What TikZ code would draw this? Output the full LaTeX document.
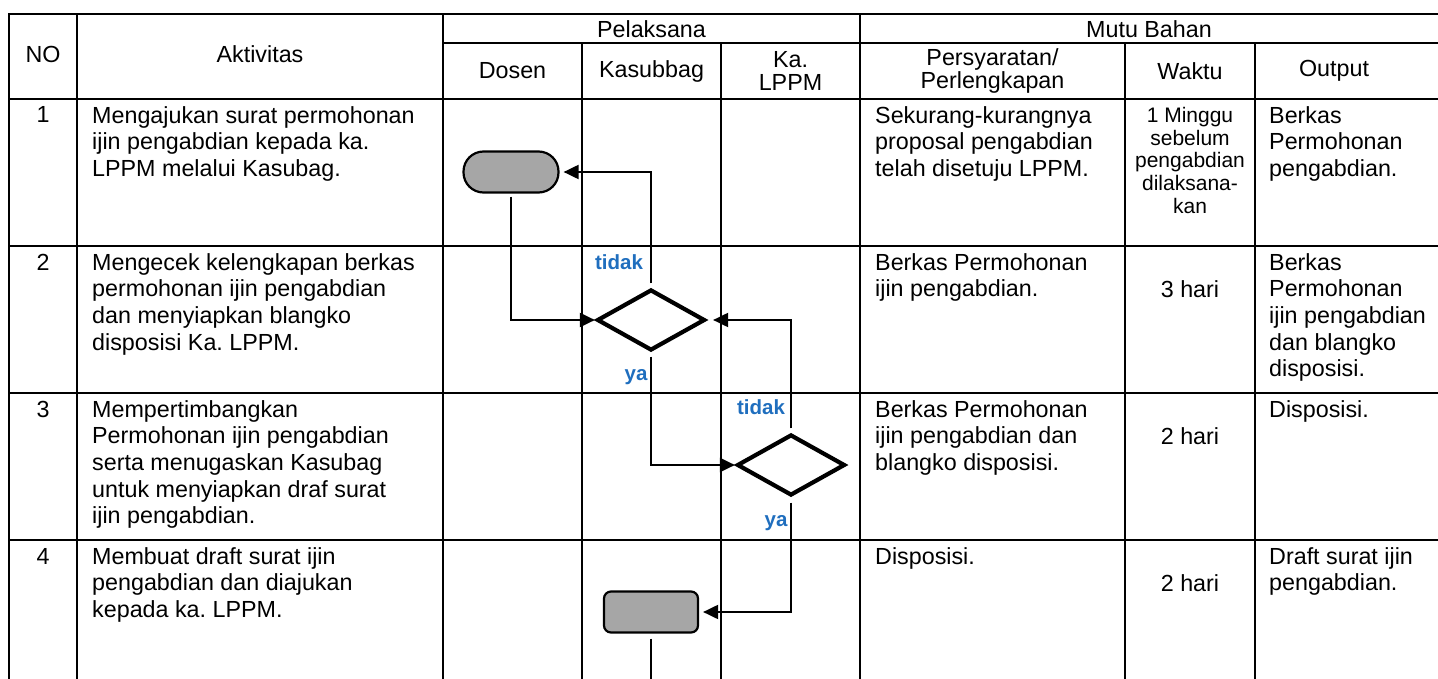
\documentclass[tikz,border=0pt]{standalone}
\usepackage{fontspec}
\setmainfont{Liberation Sans}
\usetikzlibrary{positioning,arrows.meta,shapes.geometric}
\definecolor{lblblue}{RGB}{31,110,190}
\definecolor{boxgray}{RGB}{166,166,166}
\frenchspacing

\begin{document}
\begin{tikzpicture}[x=1pt, y=-1pt,
  font=\fontsize{23.3}{26.7}\selectfont, >={Triangle[length=15pt,width=14pt]},
  grid/.style={line width=2.4pt, line cap=rect},
  cell/.style={anchor=north west, inner sep=0pt, align=left},
  head/.style={inner sep=0pt, align=center},
  num/.style={anchor=base, inner sep=0pt},
  terminal/.style={draw, line width=2.2pt, fill=boxgray, rounded corners=20pt,
                   minimum width=95pt, minimum height=41pt},
  process/.style={draw, line width=2.2pt, fill=boxgray, rounded corners=7pt,
                  minimum width=94pt, minimum height=41pt},
  decision/.style={draw, diamond, line width=4.2pt, inner sep=0pt,
                   minimum width=108pt, minimum height=61pt},
  flow/.style={->, line width=2pt},
  answer/.style={font=\bfseries\fontsize{20.5}{20.5}\selectfont,
                 text=lblblue, inner sep=0pt},
]
  \useasboundingbox (0,0) rectangle (1438,679);

  % table grid
  \draw[grid] (9,14) -- (1438,14);
  \draw[grid] (443,43) -- (1438,43);
  \draw[grid] (9,99) -- (1438,99);
  \foreach \y in {246,393,540} \draw[grid] (9,\y) -- (1438,\y);
  \foreach \x in {9,77,443,860} \draw[grid] (\x,14) -- (\x,679);
  \foreach \x in {582,721,1125,1255} \draw[grid] (\x,43) -- (\x,679);

  % header
  \node[head] (no) at (43,54) {NO};
  \node[head] (akt) at (260,54) {Aktivitas};
  \node[head] (pel) at (651.5,29) {Pelaksana};
  \node[head] (mutu) at (1149,29) {Mutu Bahan};
  \node[head] (dosen) at (512.5,71) {Dosen};
  \node[head] (kasub) at (651.5,71) {Kasubbag};
  \node[head, font=\fontsize{23.3}{23}\selectfont] (kalppm) at (790.5,71) {Ka.\\LPPM};
  \node[head, font=\fontsize{23.3}{23}\selectfont] (syarat) at (992.5,71) {Persyaratan/\\Perlengkapan};
  \node[head] (waktu) at (1190,71) {Waktu};
  \node[head] (output) at (1334,71) {Output};

  % rows
  \node[num] (n1) at (43,123) {1};
  \node[num] (n2) at (43,270) {2};
  \node[num] (n3) at (43,417) {3};
  \node[num] (n4) at (43,564) {4};

  \node[cell] (akt1) at (92,106) {Mengajukan surat permohonan\\ijin pengabdian kepada ka.\\LPPM melalui Kasubag.};
  \node[cell] (akt2) at (92,253) {Mengecek kelengkapan berkas\\permohonan ijin pengabdian\\dan menyiapkan blangko\\disposisi Ka. LPPM.};
  \node[cell] (akt3) at (92,400) {Mempertimbangkan\\Permohonan ijin pengabdian\\serta menugaskan Kasubag\\untuk menyiapkan draf surat\\ijin pengabdian.};
  \node[cell] (akt4) at (92,547) {Membuat draft surat ijin\\pengabdian dan diajukan\\kepada ka. LPPM.};

  \node[cell] (syarat1) at (875,106) {Sekurang-kurangnya\\proposal pengabdian\\telah disetuju LPPM.};
  \node[cell] (syarat2) at (875,253) {Berkas Permohonan\\ijin pengabdian.};
  \node[cell] (syarat3) at (875,400) {Berkas Permohonan\\ijin pengabdian dan\\blangko disposisi.};
  \node[cell] (syarat4) at (875,547) {Disposisi.};

  \node[head, anchor=north, font=\fontsize{21}{22.7}\selectfont] (waktu1) at (1190,107)
       {1 Minggu\\sebelum\\pengabdian\\dilaksana-\\kan};
  \node[num] (waktu2) at (1190,297) {3 hari};
  \node[num] (waktu3) at (1190,444) {2 hari};
  \node[num] (waktu4) at (1190,591) {2 hari};

  \node[cell] (out1) at (1269,106) {Berkas\\Permohonan\\pengabdian.};
  \node[cell] (out2) at (1269,253) {Berkas\\Permohonan\\ijin pengabdian\\dan blangko\\disposisi.};
  \node[cell] (out3) at (1269,400) {Disposisi.};
  \node[cell] (out4) at (1269,547) {Draft surat ijin\\pengabdian.};

  % flow
  \node[terminal] (mulai) at (511,172) {};
  \node[decision] (cek) at (651,320) {};
  \node[decision] (timbang) at (791,465) {};
  \node[process] (draf) at (651,612) {};
  \coordinate (lanjut) at (651,679);

  \draw[flow, shorten <=4pt, shorten >=4pt] (cek.north) |- (mulai.east);
  \draw[flow, shorten <=3pt] (mulai.south) |- (cek.west);
  \draw[flow, shorten <=4pt] (cek.south) |- (timbang.west);
  \draw[flow, shorten <=4pt, shorten >=6pt] (timbang.north) |- (cek.east);
  \draw[flow, shorten <=5pt, shorten >=4pt] (timbang.south) |- (draf.east);
  \draw[line width=2pt, shorten <=5pt] (draf.south) -- (lanjut);

  \node[answer] (tidak1) at (619,262) {tidak};
  \node[answer] (ya1) at (636,377) {ya};
  \node[answer] (tidak2) at (761,407) {tidak};
  \node[answer] (ya2) at (776,523) {ya};
\end{tikzpicture}
\end{document}
